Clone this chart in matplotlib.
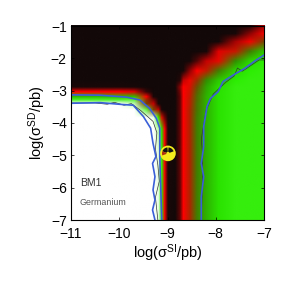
import numpy as np
from matplotlib import pyplot as plt
from matplotlib.colors import LinearSegmentedColormap
from matplotlib.image import NonUniformImage
from matplotlib.patches import Circle, Wedge
from matplotlib.transforms import ScaledTranslation

plt.rcParams["font.family"] = ["Liberation Sans", "DejaVu Sans"]
plt.rcParams["mathtext.fontset"] = "custom"
plt.rcParams["mathtext.rm"] = "Liberation Sans"
plt.rcParams["mathtext.default"] = "regular"

# grid of the likelihood map (log sigma_SI, log sigma_SD)
log_si = [-11, -10.5, -10, -9.7, -9.45, -9.3, -9.2, -9.13, -9.07, -9.0,
          -8.85, -8.75, -8.68, -8.55, -8.4, -8.2, -7.95, -7.6, -7.3, -7]
log_sd = [-7, -6, -5, -4.2, -3.85, -3.6, -3.42, -3.3, -3.2, -3.05,
          -2.9, -2.7, -2.4, -2.1, -1.8, -1.5, -1.25, -1]

# levels: 0 black, 1 red, 2 olive, 3 green, 4 white
levels = [
    [4, 4, 4, 4, 4, 4, 3.9, 3, 1.1, .2, 0, .45, 1, 1.5, 2.1, 2.5, 2.9, 3.05, 3.05, 3.05],
    [4, 4, 4, 4, 4, 4, 3.9, 3, 1.1, .2, 0, .45, 1, 1.5, 2.1, 2.5, 2.9, 3.05, 3.05, 3.05],
    [4, 4, 4, 4, 4, 4, 3.9, 3, 1.1, .2, 0, .45, 1, 1.5, 2.1, 2.5, 2.9, 3.05, 3.05, 3.05],
    [4, 4, 4, 4, 4, 4, 3.7, 2.8, 1.0, .15, 0, .45, 1, 1.5, 2.1, 2.5, 2.9, 3.05, 3.05, 3.05],
    [4, 4, 4, 4, 4, 3.9, 3.0, 1.3, .5, .05, 0, .45, 1, 1.5, 2.1, 2.5, 2.9, 3.05, 3.05, 3.05],
    [4, 4, 4, 4, 3.3, 1.8, .8, .2, 0, 0, 0, .45, 1, 1.5, 2.05, 2.5, 2.9, 3.05, 3.05, 3.05],
    [4, 4, 4, 3.7, 1.8, .8, .2, 0, 0, 0, 0, .45, 1, 1.45, 2.05, 2.5, 2.9, 3.05, 3.05, 3.05],
    [3.2, 3.2, 3.2, 3.3, 1.6, .5, .1, 0, 0, 0, 0, .45, 1, 1.45, 2.0, 2.5, 2.9, 3.05, 3.05, 3.05],
    [2.6, 2.6, 2.6, 2.6, 1.0, .2, 0, 0, 0, 0, 0, .45, 1, 1.4, 2.0, 2.5, 2.9, 3.05, 3.05, 3.05],
    [1, 1, 1, .9, .3, 0, 0, 0, 0, 0, 0, .5, 1, 1.35, 1.95, 2.45, 2.9, 3.05, 3.05, 3.05],
    [.2, .2, .2, .15, 0, 0, 0, 0, 0, 0, .05, .6, 1, 1.3, 1.85, 2.4, 2.85, 3.05, 3.05, 3.05],
    [0, 0, 0, 0, 0, 0, 0, 0, 0, 0, 0, .25, .8, 1.2, 1.6, 2.2, 2.7, 3, 3.05, 3.05],
    [0, 0, 0, 0, 0, 0, 0, 0, 0, 0, 0, 0, .2, .6, 1, 1.45, 2.1, 2.8, 3, 3.05],
    [0, 0, 0, 0, 0, 0, 0, 0, 0, 0, 0, 0, 0, .1, .4, .8, 1.25, 2.2, 2.8, 3],
    [0, 0, 0, 0, 0, 0, 0, 0, 0, 0, 0, 0, 0, 0, 0, .15, .9, 1.4, 2.1, 2.7],
    [0, 0, 0, 0, 0, 0, 0, 0, 0, 0, 0, 0, 0, 0, 0, 0, .1, .7, 1.15, 1.8],
    [0, 0, 0, 0, 0, 0, 0, 0, 0, 0, 0, 0, 0, 0, 0, 0, 0, .15, .6, 1.1],
    [0, 0, 0, 0, 0, 0, 0, 0, 0, 0, 0, 0, 0, 0, 0, 0, 0, 0, .15, .7],
]

# blue contours
blue_top_x = [-11, -10.4, -9.85, -9.57, -9.37, -9.23, -9.16, -9.16, -9.14, -9.12]
blue_top_y = [-3.13, -3.14, -3.2, -3.29, -3.55, -3.86, -4.16, -5.04, -5.97, -7]
blue_low_x = [-11, -10.4, -9.92, -9.71, -9.5, -9.35, -9.3, -9.24, -9.31, -9.26, -9.3, -9.26, -9.31, -9.26]
blue_low_y = [-3.39, -3.37, -3.43, -3.45, -3.8, -4.16, -4.63, -5.04, -5.25, -5.66, -6.07, -6.38, -6.69, -7]
blue_right_x = [-8.3, -8.3, -8.25, -8.3, -8.25, -8.25, -8.18, -8.11, -7.95, -7.85, -7.64, -7.4, -7.16, -7]
blue_right_y = [-7, -6.28, -5.66, -5.25, -4.73, -4.11, -3.49, -3.24, -3.03, -2.72, -2.52, -2.31, -2.05, -1.9]

# thin dark contours
dark_left_x = [-11, -10.5, -10.25, -10.1, -9.9, -9.75, -9.55, -9.3, -9.22, -9.25, -9.2, -9.17, -9.25, -9.2]
dark_left_y = [-3.38, -3.38, -3.42, -3.36, -3.45, -3.4, -3.62, -3.95, -4.3, -4.8, -5.3, -5.8, -6.3, -7]
dark_right_x = [-8.3, -8.28, -8.27, -8.3, -8.2, -8.05, -7.8, -7.62, -7.55, -7.45, -7.1, -7]
dark_right_y = [-7, -6, -5, -4.5, -3.6, -3.1, -2.75, -2.55, -2.3, -2.4, -2.05, -2.05]

# best fit point
best_si = -8.99
best_sd = -4.94

x_ticks = [-11, -10, -9, -8, -7]
y_ticks = [-7, -6, -5, -4, -3, -2, -1]

cmap = LinearSegmentedColormap.from_list(
    "bgw",
    [(0, "#120808"), (0.05, "#1a0808"), (0.25, "#ff0000"), (0.31, "#e80800"),
     (0.44, "#7a4000"), (0.55, "#309000"), (0.75, "#2aee00"), (0.84, "#70f450"), (1, "#ffffff")],
)

fig = plt.figure(figsize=(2.91, 2.91), dpi=100)
ax = fig.add_axes([71 / 291, 1 - 220 / 291, 193 / 291, 194 / 291])
im = NonUniformImage(ax, interpolation="bilinear", cmap=cmap, extent=(-11, -7, -7, -1))
im.set_clim(0, 4)
im.set_data(log_si, log_sd, np.array(levels))
ax.add_image(im)

ax.plot(dark_left_x, dark_left_y, color="#333333", lw=0.5)
ax.plot(dark_right_x, dark_right_y, color="#333333", lw=0.5)
ax.plot(blue_top_x, blue_top_y, color="#3a5fd8", lw=1.2)
ax.plot(blue_low_x, blue_low_y, color="#3a5fd8", lw=1.2)
ax.plot(blue_right_x, blue_right_y, color="#3a5fd8", lw=1.2)

ax.set_xlim(-11, -7)
ax.set_ylim(-7, -1)

# yellow disc with the sectors of the radiation sign, sized in inches
mark = fig.dpi_scale_trans + ScaledTranslation(best_si, best_sd, ax.transData)
ax.add_patch(Circle((0, 0), 0.078, color="#f4ec1c", lw=0, transform=mark, zorder=5))
for start, end, col in [(20, 85, "#111111"), (95, 160, "#111111"), (160, 200, "#b03010")]:
    ax.add_patch(Wedge((0, 0), 0.06, start, end, color=col, lw=0, transform=mark, zorder=6))
ax.add_patch(Circle((0, 0), 0.016, color="#f4ec1c", lw=0, transform=mark, zorder=7))

ax.text(-10.82, -5.86, "BM1", fontsize=7.5, color="#333333", va="center")
ax.text(-10.82, -6.45, "Germanium", fontsize=6.4, color="#555555", va="center")

ax.set_xticks(x_ticks)
ax.set_yticks(y_ticks)
ax.tick_params(direction="in", length=2, width=0.5, labelsize=10, top=True, right=True)
ax.tick_params(axis="x", pad=5)
ax.tick_params(axis="y", pad=3)
ax.set_xlabel(r"log($\sigma^{SI}$/pb)", fontsize=10.5, labelpad=1)
ax.set_ylabel(r"log($\sigma^{SD}$/pb)", fontsize=10.5, labelpad=2)
for spine in ax.spines.values():
    spine.set_linewidth(0.8)

plt.savefig("out.png", dpi=100)
